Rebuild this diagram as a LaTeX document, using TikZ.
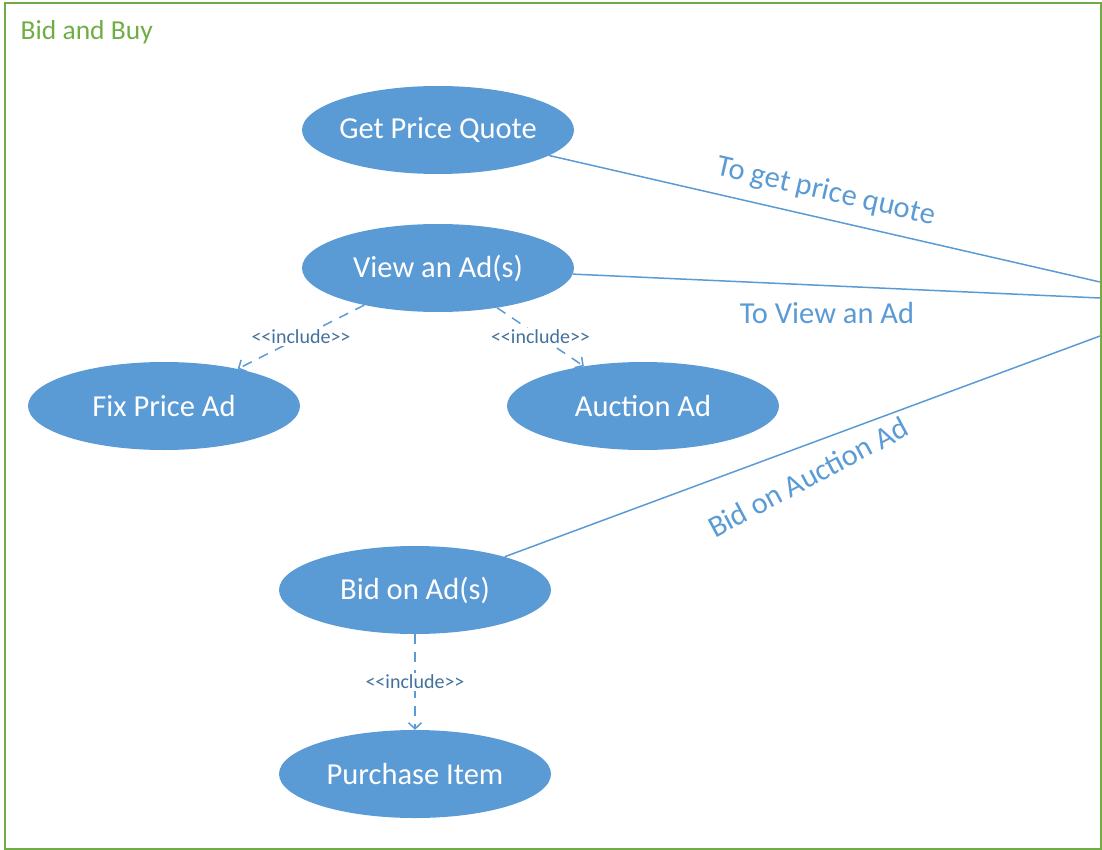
\documentclass[tikz,border=0pt]{standalone}
\usepackage{fontspec}
\setmainfont{Carlito}
\usetikzlibrary{shapes.geometric,arrows.meta}
\definecolor{ucfill}{HTML}{5B9BD5}
\definecolor{ucline}{HTML}{5B9BD5}
\definecolor{sysframe}{HTML}{70AD47}
\definecolor{inctext}{HTML}{41719C}
\newcommand{\inclabel}{<\kern0pt<include>\kern0pt>}
\begin{document}
\begin{tikzpicture}[x=1pt,y=-1pt,
  usecase/.style={ellipse, fill=ucfill, draw=none, minimum width=272pt,
    minimum height=88pt, inner xsep=-30pt, inner ysep=0pt, text=white,
    font=\fontsize{30.5}{36}\selectfont},
  assoc/.style={draw=ucline, line width=1.5pt},
  incl/.style={draw=ucline, line width=1.5pt, dash pattern=on 10pt off 8pt,
    -{Straight Barb[length=6pt,width=13pt]}},
  incllabel/.style={fill=white, text=inctext, font=\fontsize{20}{24}\selectfont,
    inner sep=2pt},
  assoclabel/.style={text=ucline, font=\fontsize{30.5}{36}\selectfont, inner sep=0pt}]

\useasboundingbox (0,0) rectangle (1102,850);

% system boundary
\draw[sysframe, line width=2pt] (4.5,3.5) rectangle (1100.5,848.5);
\node[anchor=west, text=sysframe, font=\fontsize{27.5}{32}\selectfont, inner sep=0pt]
  (title) at (20.5,32) {Bid and Buy};

% use cases
\node[usecase] (quote)    at (438,130) {Get Price Quote};
\node[usecase] (view)     at (438,268) {View an Ad(s)};
\node[usecase] (fix)      at (164,406) {Fix Price Ad};
\node[usecase] (auction)  at (643,406) {Auction Ad};
\node[usecase] (bid)      at (415,590) {Bid on Ad(s)};
\node[usecase] (purchase) at (415,774) {Purchase Item};

% association ends on the boundary
\coordinate (e1) at (1100,282);
\coordinate (e2) at (1100,298);
\coordinate (e3) at (1100,336);

\draw[assoc] (quote) -- (e1);
\draw[assoc] (view) -- (e2);
\draw[assoc] (bid) -- (e3);

\node[assoclabel, rotate=-13] (l1) at (826,192) {To get price quote};
\node[assoclabel] (l2) at (827,313) {To View an Ad};
\node[assoclabel, rotate=28] (l3) at (808,477) {Bid on Auction Ad};

% include relationships
\draw[incl] (view) -- node[incllabel] (i1) {\inclabel} (fix);
\draw[incl] (view) -- node[incllabel] (i2) {\inclabel} (auction);
\draw[incl] (bid) -- node[incllabel] (i3) {\inclabel} (purchase);
\end{tikzpicture}
\end{document}
